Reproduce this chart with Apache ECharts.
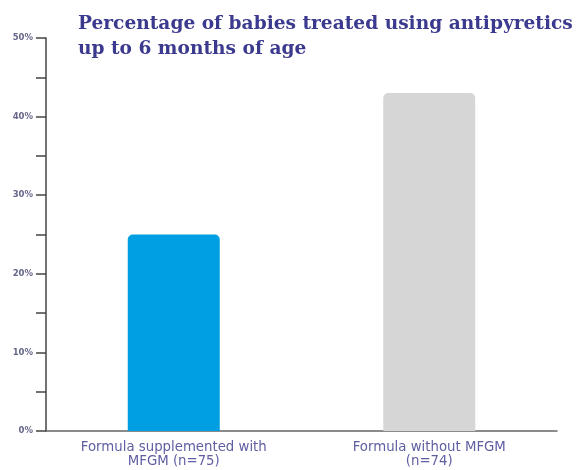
<!DOCTYPE html>
<html><head><meta charset="utf-8">
<script src="https://cdn.jsdelivr.net/npm/echarts@6/dist/echarts.min.js"></script>
<style>html,body{margin:0;padding:0;background:#fff}#c{width:580px;height:470px}</style>
</head><body><div id="c"></div>
<script>
const categories = ['Formula supplemented with\nMFGM (n=75)', 'Formula without MFGM\n(n=74)'];
const values = [25, 43];
const barColors = ['#009fe3', '#d6d6d6'];
const yTicks = [0, 10, 20, 30, 40, 50];

const chart = echarts.init(document.getElementById('c'));
chart.setOption({
  animation: false,
  title: {
    text: 'Percentage of babies treated using antipyretics\nup to 6 months of age',
    left: 73, top: 7,
    textStyle: { fontFamily: 'DejaVu Serif', fontWeight: 'bold', fontSize: 18.6, lineHeight: 25, color: '#3c3a8e' }
  },
  grid: { left: 46, right: 23, top: 38, bottom: 39, containLabel: false },
  xAxis: {
    type: 'category', data: categories,
    axisLine: { lineStyle: { color: '#666', width: 1.5 } },
    axisTick: { show: false },
    axisLabel: { color: '#5f5ea2', fontSize: 13.3, lineHeight: 14.5, margin: 9, fontFamily: 'DejaVu Sans' }
  },
  yAxis: {
    type: 'value', min: yTicks[0], max: yTicks[yTicks.length - 1], interval: 10,
    axisLine: { show: true, lineStyle: { color: '#444', width: 1.5 } },
    axisTick: { show: true, length: 10, lineStyle: { color: '#444', width: 1.5 } },
    minorTick: { show: true, splitNumber: 2, length: 10, lineStyle: { color: '#444', width: 1.5 } },
    splitLine: { show: false },
    axisLabel: { formatter: '{value}%', color: '#66668a', fontSize: 8.5, fontWeight: 'bold', margin: 13, fontFamily: 'DejaVu Sans' }
  },
  series: [{
    type: 'bar', barWidth: 92,
    data: values.map((v, i) => ({ value: v, itemStyle: { color: barColors[i] } })),
    itemStyle: { borderRadius: [5, 5, 0, 0] }
  }]
});
</script></body></html>
